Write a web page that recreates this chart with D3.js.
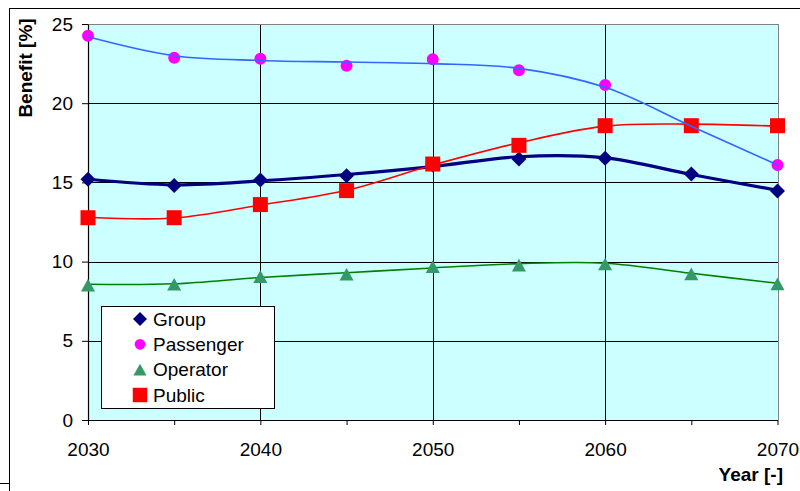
<!DOCTYPE html>
<html>
<head>
<meta charset="utf-8">
<script src="https://cdn.jsdelivr.net/npm/d3@7/dist/d3.min.js"></script>
<style>
  html, body { margin: 0; padding: 0; background: #fff; }
  svg { display: block; font-family: "Liberation Sans", Arial, sans-serif; }
</style>
</head>
<body>
<svg id="chart" width="800" height="491"></svg>
<script>
// Years at which the benefit figures are given
const years = [2030, 2035, 2040, 2045, 2050, 2055, 2060, 2065, 2070];

// Point values per stakeholder [%]
const groupPoints     = [15.2, 14.8, 15.15, 15.42, 16.1, 16.48, 16.52, 15.53, 14.46];
const passengerPoints = [24.26, 22.87, 22.81, 22.37, 22.77, 22.08, 21.15, 18.6, 16.1];
const operatorPoints  = [8.52, 8.57, 9.05, 9.2, 9.68, 9.78, 9.85, 9.22, 8.59];
const publicPoints    = [12.77, 12.77, 13.6, 14.48, 16.16, 17.34, 18.58, 18.58, 18.58];

// Smoothed trend values per stakeholder [%]
const groupTrend     = [15.2, 14.85, 15.1, 15.5, 16.0, 16.62, 16.55, 15.5, 14.5];
const passengerTrend = [24.2, 23.0, 22.7, 22.6, 22.5, 22.2, 21.0, 18.55, 16.1];
const operatorTrend  = [8.57, 8.6, 9.0, 9.3, 9.6, 9.87, 9.9, 9.26, 8.63];
const publicTrend    = [12.8, 12.75, 13.57, 14.5, 16.1, 17.5, 18.55, 18.68, 18.55];

// Axis ticks
const yTicks = [0, 5, 10, 15, 20, 25];
const xTicks = [2030, 2035, 2040, 2045, 2050, 2055, 2060, 2065, 2070];
const xLabelled = [2030, 2040, 2050, 2060, 2070];
const xGrid = [2040, 2050, 2060];
const yGrid = [5, 10, 15, 20];

const legendNames = ["Group", "Passenger", "Operator", "Public"];

const svg = d3.select("#chart");

const x = d3.scaleLinear().domain([2030, 2070]).range([88, 777.5]);
const y = d3.scaleLinear().domain([0, 25]).range([420, 24]);

// Outer frame
svg.append("path")
  .attr("d", "M9.5,491 V8.5 H800 M0,483.5 H9.5")
  .attr("fill", "none").attr("stroke", "#000").attr("stroke-width", 1)
  .attr("shape-rendering", "crispEdges");

// Plot area background
const [x0, x1] = x.range();
const [yb, yt] = y.range();
svg.append("rect")
  .attr("x", x0).attr("y", yt)
  .attr("width", x1 - x0).attr("height", yb - yt)
  .attr("fill", "#CCFFFF");

// Grid lines
const grid = svg.append("g").attr("shape-rendering", "crispEdges")
  .attr("stroke", "#000").attr("stroke-width", 1);
grid.selectAll("line.h").data(yGrid).join("line")
  .attr("x1", x0).attr("x2", x1)
  .attr("y1", d => Math.round(y(d)) + 0.5).attr("y2", d => Math.round(y(d)) + 0.5);
grid.selectAll("line.v").data(xGrid).join("line")
  .attr("y1", yt).attr("y2", yb)
  .attr("x1", d => Math.round(x(d)) + 0.5).attr("x2", d => Math.round(x(d)) + 0.5);

// Plot border (top and right in grey)
svg.append("path")
  .attr("d", `M${x0},${Math.round(yt) + 0.5} H${Math.round(x1) + 0.5} V${yb}`)
  .attr("fill", "none").attr("stroke", "#808080").attr("stroke-width", 1.5)
  .attr("shape-rendering", "crispEdges");

// Axes
const xAxis = d3.axisBottom(x)
  .tickValues(xTicks)
  .tickFormat(d => xLabelled.includes(d) ? d3.format("d")(d) : "")
  .tickSize(5).tickSizeOuter(0).tickPadding(18);
const yAxis = d3.axisLeft(y)
  .tickValues(yTicks)
  .tickFormat(d3.format("d"))
  .tickSize(6).tickSizeOuter(0).tickPadding(9);

const gx = svg.append("g").attr("transform", `translate(0,${yb})`).call(xAxis);
const gy = svg.append("g").attr("transform", `translate(${x0},0)`).call(yAxis);
[gx, gy].forEach(g => {
  g.select(".domain").attr("stroke", "#000").attr("stroke-width", 1.2);
  g.selectAll(".tick line").attr("stroke", "#000");
  g.selectAll("text").attr("font-size", 19).attr("fill", "#000")
    .attr("font-family", "'Liberation Sans', Arial, sans-serif");
});

// Axis titles
svg.append("text")
  .attr("transform", "translate(32,68) rotate(-90)")
  .attr("text-anchor", "middle")
  .attr("font-size", 19).attr("font-weight", "bold")
  .text("Benefit [%]");
svg.append("text")
  .attr("x", 783).attr("y", 481)
  .attr("text-anchor", "end")
  .attr("font-size", 19).attr("font-weight", "bold")
  .text("Year [-]");

// Marker shapes
const triangle = {
  draw(ctx, size) {
    const w = Math.sqrt(size) * 1.15, h = w * 0.9;
    ctx.moveTo(0, -h / 2);
    ctx.lineTo(w / 2, h / 2);
    ctx.lineTo(-w / 2, h / 2);
    ctx.closePath();
  }
};

const series = {
  Group:     { pts: groupPoints,     trend: groupTrend,     line: "#000080", lw: 3.2, mark: "#000080", sym: d3.symbolSquare, size: 112, rot: 45 },
  Passenger: { pts: passengerPoints, trend: passengerTrend, line: "#3366FF", lw: 1.6, mark: "#FF00FF", sym: d3.symbolCircle, size: 113, rot: 0 },
  Operator:  { pts: operatorPoints,  trend: operatorTrend,  line: "#008000", lw: 1.6, mark: "#339966", sym: triangle,        size: 150, rot: 0 },
  Public:    { pts: publicPoints,    trend: publicTrend,    line: "#FF0000", lw: 1.6, mark: "#FF0000", sym: d3.symbolSquare, size: 225, rot: 0 }
};

const lineGen = d3.line()
  .x((d, i) => x(years[i]))
  .y(d => y(d))
  .curve(d3.curveCatmullRom.alpha(0.5));

const plot = svg.append("g");

function drawLine(name) {
  const s = series[name];
  plot.append("path")
    .datum(s.trend)
    .attr("d", lineGen)
    .attr("fill", "none")
    .attr("stroke", s.line)
    .attr("stroke-width", s.lw)
    .attr("stroke-linejoin", "round");
}
function drawMarks(name) {
  const s = series[name];
  plot.append("g").selectAll("path")
    .data(s.pts)
    .join("path")
    .attr("transform", (d, i) => `translate(${x(years[i])},${y(d)}) rotate(${s.rot})`)
    .attr("d", d3.symbol().type(s.sym).size(s.size))
    .attr("fill", s.mark);
}

// Layering: passenger trend sits above the public markers
drawLine("Group");
drawMarks("Group");
drawLine("Operator");
drawMarks("Operator");
drawMarks("Passenger");
drawLine("Public");
drawMarks("Public");
drawLine("Passenger");

// Legend
const legend = svg.append("g");
legend.append("rect")
  .attr("x", 101.5).attr("y", 306.5)
  .attr("width", 173).attr("height", 102)
  .attr("fill", "#fff").attr("stroke", "#000").attr("stroke-width", 1)
  .attr("shape-rendering", "crispEdges");

const legendSizes = { Group: 98, Passenger: 90, Operator: 130, Public: 210 };
const rowY = d3.scaleLinear().domain([0, 3]).range([319, 395]);
legendNames.forEach((name, i) => {
  const s = series[name];
  legend.append("path")
    .attr("transform", `translate(140,${rowY(i)}) rotate(${s.rot})`)
    .attr("d", d3.symbol().type(s.sym).size(legendSizes[name]))
    .attr("fill", s.mark);
  legend.append("text")
    .attr("x", 153).attr("y", rowY(i))
    .attr("dy", "0.35em")
    .attr("font-size", 19)
    .text(name);
});
</script>
</body>
</html>
